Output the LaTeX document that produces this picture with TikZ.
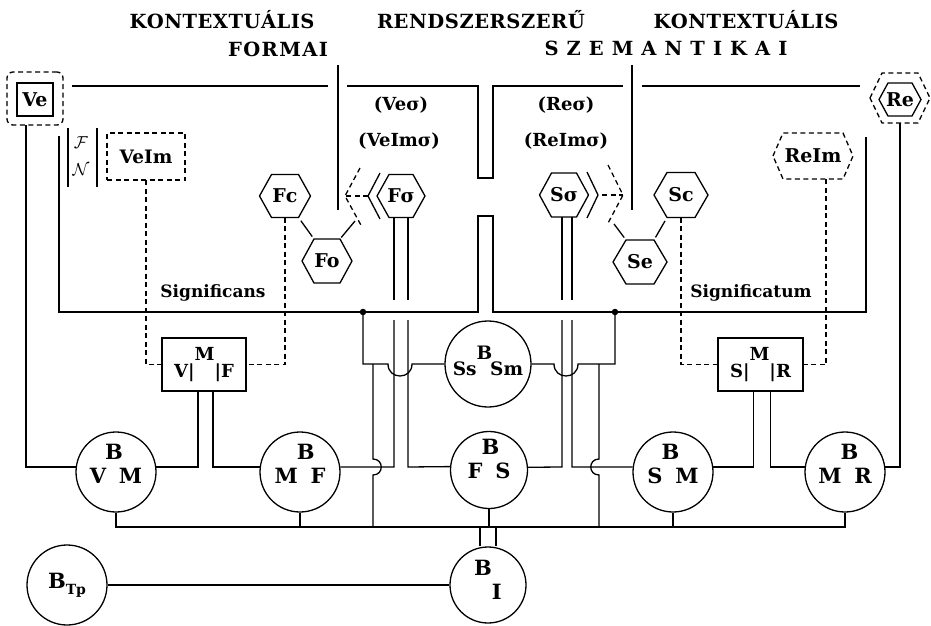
\documentclass[tikz,border=0pt]{standalone}
\usepackage{fontspec}
\setmainfont{DejaVu Serif}
\usetikzlibrary{calc}
\newcommand\hexn[8]{%
  \node[hexlbl,minimum width=#5,minimum height=#6] (#1) at (#3,#4) {#8};
  \draw[#2] (#1.west) -- ([xshift=#7]#1.north west) -- ([xshift=-#7]#1.north east) -- (#1.east) -- ([xshift=-#7]#1.south east) -- ([xshift=#7]#1.south west) -- cycle;
}
\newcommand\spr[2]{\makebox[#1][s]{#2}}
\newcommand\cl[3]{\rule[-16pt]{0pt}{16pt}#1\kern-1pt\raisebox{1.15em}{#2}\kern-4pt#3}
\begin{document}
\begin{tikzpicture}[x=1pt,y=-1pt,line width=1.3pt,
  txt/.style={font=\bfseries\fontsize{18}{20}\selectfont,inner sep=0pt,outer sep=0pt},
  ttl/.style={font=\bfseries\fontsize{19.5}{21}\selectfont,inner sep=0pt},
  hexlbl/.style={txt,font=\bfseries\fontsize{19}{20}\selectfont,draw=none},
  circ/.style={circle,draw,minimum size=80,inner sep=0pt,font=\bfseries\fontsize{21}{22}\selectfont},
  dsh/.style={dash pattern=on 5pt off 3.5pt},
  box/.style={draw,inner sep=0pt,outer sep=0pt},
  dot/.style={circle,fill,inner sep=0pt,minimum size=6.5}]
\useasboundingbox (0,0) rectangle (931,626);
\fill[white] (0,0) rectangle (931,626);
% titles
\node[ttl] (k1) at (222,20) {\spr{185pt}{K\hfill O\hfill N\hfill T\hfill E\hfill X\hfill T\hfill U\hfill Á\hfill L\hfill I\hfill S}};
\node[ttl] (rsz) at (481,20) {\spr{208pt}{R\hfill E\hfill N\hfill D\hfill S\hfill Z\hfill E\hfill R\hfill S\hfill Z\hfill E\hfill R\hfill Ű}};
\node[ttl] (k2) at (746,20) {\spr{185pt}{K\hfill O\hfill N\hfill T\hfill E\hfill X\hfill T\hfill U\hfill Á\hfill L\hfill I\hfill S}};
\node[ttl] (form) at (278,49) {\spr{100pt}{F\hfill O\hfill R\hfill M\hfill A\hfill I}};
\node[ttl] (szem) at (666,48) {\spr{243pt}{S\hfill Z\hfill E\hfill M\hfill A\hfill N\hfill T\hfill I\hfill K\hfill A\hfill I}};
% Ve and Re
\node[box,dsh,rounded corners=6pt,minimum width=56,minimum height=53] (VeO) at (35,98.5) {};
\node[box,txt,font=\bfseries\fontsize{19}{20}\selectfont,minimum width=36,minimum height=33] (Ve) at (35,99.5) {Ve};
\hexn{ReO}{dsh}{900}{98}{60}{50}{12}{}
\hexn{Re}{solid}{900}{99.5}{42}{33}{9}{Re}
% Im boxes
\node[box,dsh,txt,font=\bfseries\fontsize{18.5}{20}\selectfont,minimum width=78,minimum height=47] (VeIm) at (146,156.5) {VeIm};
\hexn{ReIm}{dsh}{813}{156}{80}{46}{10}{ReIm}
% F/N
\draw (68,128) -- (68,187);
\draw (97,128) -- (97,187);
\node[inner sep=0pt,font=\fontsize{17}{17}\selectfont] (scF) at (81,143) {$\mathcal{F}$};
\node[inner sep=0pt,font=\fontsize{17}{17}\selectfont] (scN) at (81,170) {$\mathcal{N}$};
% hexagons
\hexn{Fc}{solid}{285}{196}{51}{43}{12}{Fc}
\hexn{Fo}{solid}{327}{261}{50}{44}{12}{Fo}
\hexn{Fs}{solid}{401}{196}{48}{43}{12}{Fσ}
\hexn{Ssig}{solid}{564}{195}{49}{44}{12}{Sσ}
\hexn{Sc}{solid}{681}{195}{54}{45}{13}{Sc}
\hexn{Se}{solid}{640}{262}{54}{44}{13}{Se}
% labels
\node[txt] (veS) at (401,105) {(Veσ)};
\node[txt] (veimS) at (399,141) {(VeImσ)};
\node[txt] (reS) at (566,105) {(Reσ)};
\node[txt] (reimS) at (566,141) {(ReImσ)};
\node[txt,font=\bfseries\fontsize{17}{20}\selectfont] (sig1) at (213,293) {Significans};
\node[txt,font=\bfseries\fontsize{17}{20}\selectfont] (sig2) at (751,293) {Significatum};
% M boxes
\node[box,txt,minimum width=84,minimum height=53] (VMF) at (204,364.5) {V|\raisebox{0.95em}{M}|F};
\node[box,txt,minimum width=85,minimum height=53] (SMR) at (760.5,364.5) {S|\raisebox{0.95em}{M}|R};
% circles
\node[circ] (VBM) at (116,472) {\cl{V}{B}{M}};
\node[circ] (MBF) at (300,472) {\cl{M}{B}{F}};
\node[circ,minimum size=77] (FBS) at (489,470) {\rule[-22pt]{0pt}{22pt}F\kern-1pt\raisebox{1.15em}{B}\kern-4pt S};
\node[circ] (SBM) at (673,472) {\cl{S}{B}{M}};
\node[circ] (MBR) at (845,472) {\cl{M}{B}{R}};
\node[circ,minimum size=86,font=\bfseries\fontsize{18.5}{20}\selectfont] (SsBSm) at (488,364) {\rule[-6pt]{0pt}{6pt}Ss\raisebox{0.85em}{B}\kern-2pt Sm};
\node[circ] (BTp) at (67,585) {B\raisebox{-0.3em}{\fontsize{14}{14}\selectfont Tp}};
\node[circ,minimum size=76] (BI) at (488,585) {\rule[-35pt]{0pt}{35pt}B\raisebox{-1.15em}{I}};
% frame
\draw (72,86) -- (328,86);
\draw (347,86) -- (478,86) -- (478,178) -- (493,178) -- (493,86) -- (623,86);
\draw (642,86) -- (860,86);
\draw (338,65) -- (338,210);
\draw (632,65) -- (632,210);
\draw (59,136) -- (59,312) -- (478,312) -- (478,216) -- (493,216) -- (493,312) -- (866,312) -- (866,137);
% Ve / Re lines
\coordinate (veL) at (26,0);
\coordinate (veB) at (VeO.south -| veL);
\draw (veB) -- (veB |- VBM.173) -- (VBM.173);
\draw (ReO.south) -- (ReO.south |- MBR.7) -- (MBR.7);
% M box connectors
\draw[dsh] (VeIm.south) -- (VeIm.south |- VMF.west) -- (VMF.west);
\draw[dsh] (Fc.south) -- (Fc.south |- VMF.east) -- (VMF.east);
\coordinate (vmfL) at ($(VMF.south)+(-6,0)$);
\coordinate (vmfR) at ($(VMF.south)+(9,0)$);
\draw (vmfL) -- (vmfL |- VBM.7) -- (VBM.7);
\draw (vmfR) -- (vmfR |- MBF.173) -- (MBF.173);
\draw[dsh] (Sc.south) -- (Sc.south |- SMR.west) -- (SMR.west);
\coordinate (reimB) at ($(ReIm.south)+(13,0)$);
\draw[dsh] (reimB) -- (reimB |- SMR.east) -- (SMR.east);
\coordinate (smrL) at ($(SMR.south)+(-7,0)$);
\coordinate (smrR) at ($(SMR.south)+(10,0)$);
\draw (smrL) -- (smrL |- SBM.7) -- (SBM.7);
\draw (smrR) -- (smrR |- MBR.173) -- (MBR.173);
% rails
\coordinate (fsL) at (394,0); \coordinate (fsR) at (408,0);
\coordinate (ssL) at (562,0); \coordinate (ssR) at (572,0);
\draw (Fs.south -| fsL) -- (394,300);
\draw (Fs.south -| fsR) -- (408,300);
\draw (Ssig.south -| ssL) -- (562,300);
\draw (Ssig.south -| ssR) -- (572,300);
\draw (MBF.7) -- (394,467) -- (394,320);
\draw (FBS.175.5) -- (408,467) -- (408,320);
\draw (FBS.4.5) -- (562,467) -- (562,320);
\draw (SBM.173) -- (572,467) -- (572,320);
% dots
\node[dot] (d1) at (363,312) {};
\node[dot] (d2) at (615,312) {};
\draw (d1.center) -- (363,364) -- (388,364) .. controls (388,380) and (412,380) .. (412,364) -- (SsBSm.west);
\draw (d2.center) -- (615,364) -- (578,364) .. controls (578,380) and (554,380) .. (554,364) -- (SsBSm.east);
\draw (373,364) -- (373,459) .. controls (384,459) and (384,475) .. (373,475) -- (373,527);
\draw (599,364) -- (599,459) .. controls (588,459) and (588,475) .. (599,475) -- (599,527);
% bus
\coordinate (busY) at (0,527);
\draw (VBM.south) -- (VBM.south |- busY) -- (MBR.south |- busY) -- (MBR.south);
\draw (MBF.south) -- (MBF.south |- busY);
\draw (FBS.south) -- (FBS.south |- busY);
\draw (SBM.south) -- (SBM.south |- busY);
\coordinate (biL) at (480,527); \coordinate (biR) at (496,527);
\draw (biL) -- (biL |- BI.north);
\draw (biR) -- (biR |- BI.north);
\draw (BTp.east) -- (BI.west);
% chevrons
\draw (380,173) -- (368,196) -- (380,219);
\draw (587,172) -- (598,195) -- (587,218);
\draw[dsh] (368,196) -- (345,196);
\draw[dsh] (360,168) -- (345,196) -- (362,227);
\draw[dsh] (602,195) -- (623,195);
\draw[dsh] (608,165) -- (623,195) -- (607,225);
% hexagon links
\draw[shorten <=4,shorten >=3] ($(Fc.south east)+(-12,0)$) -- ($(Fo.north west)+(12,0)$);
\coordinate (fchev) at (355,221);
\draw[shorten <=2] ($(Fo.north east)+(-12,0)$) -- (fchev);
\coordinate (schev) at (614,224);
\draw[shorten <=3] ($(Se.north west)+(13,0)$) -- (schev);
\draw[shorten <=3,shorten >=4] ($(Se.north east)+(-13,0)$) -- ($(Sc.south west)+(13,0)$);
\end{tikzpicture}
\end{document}
